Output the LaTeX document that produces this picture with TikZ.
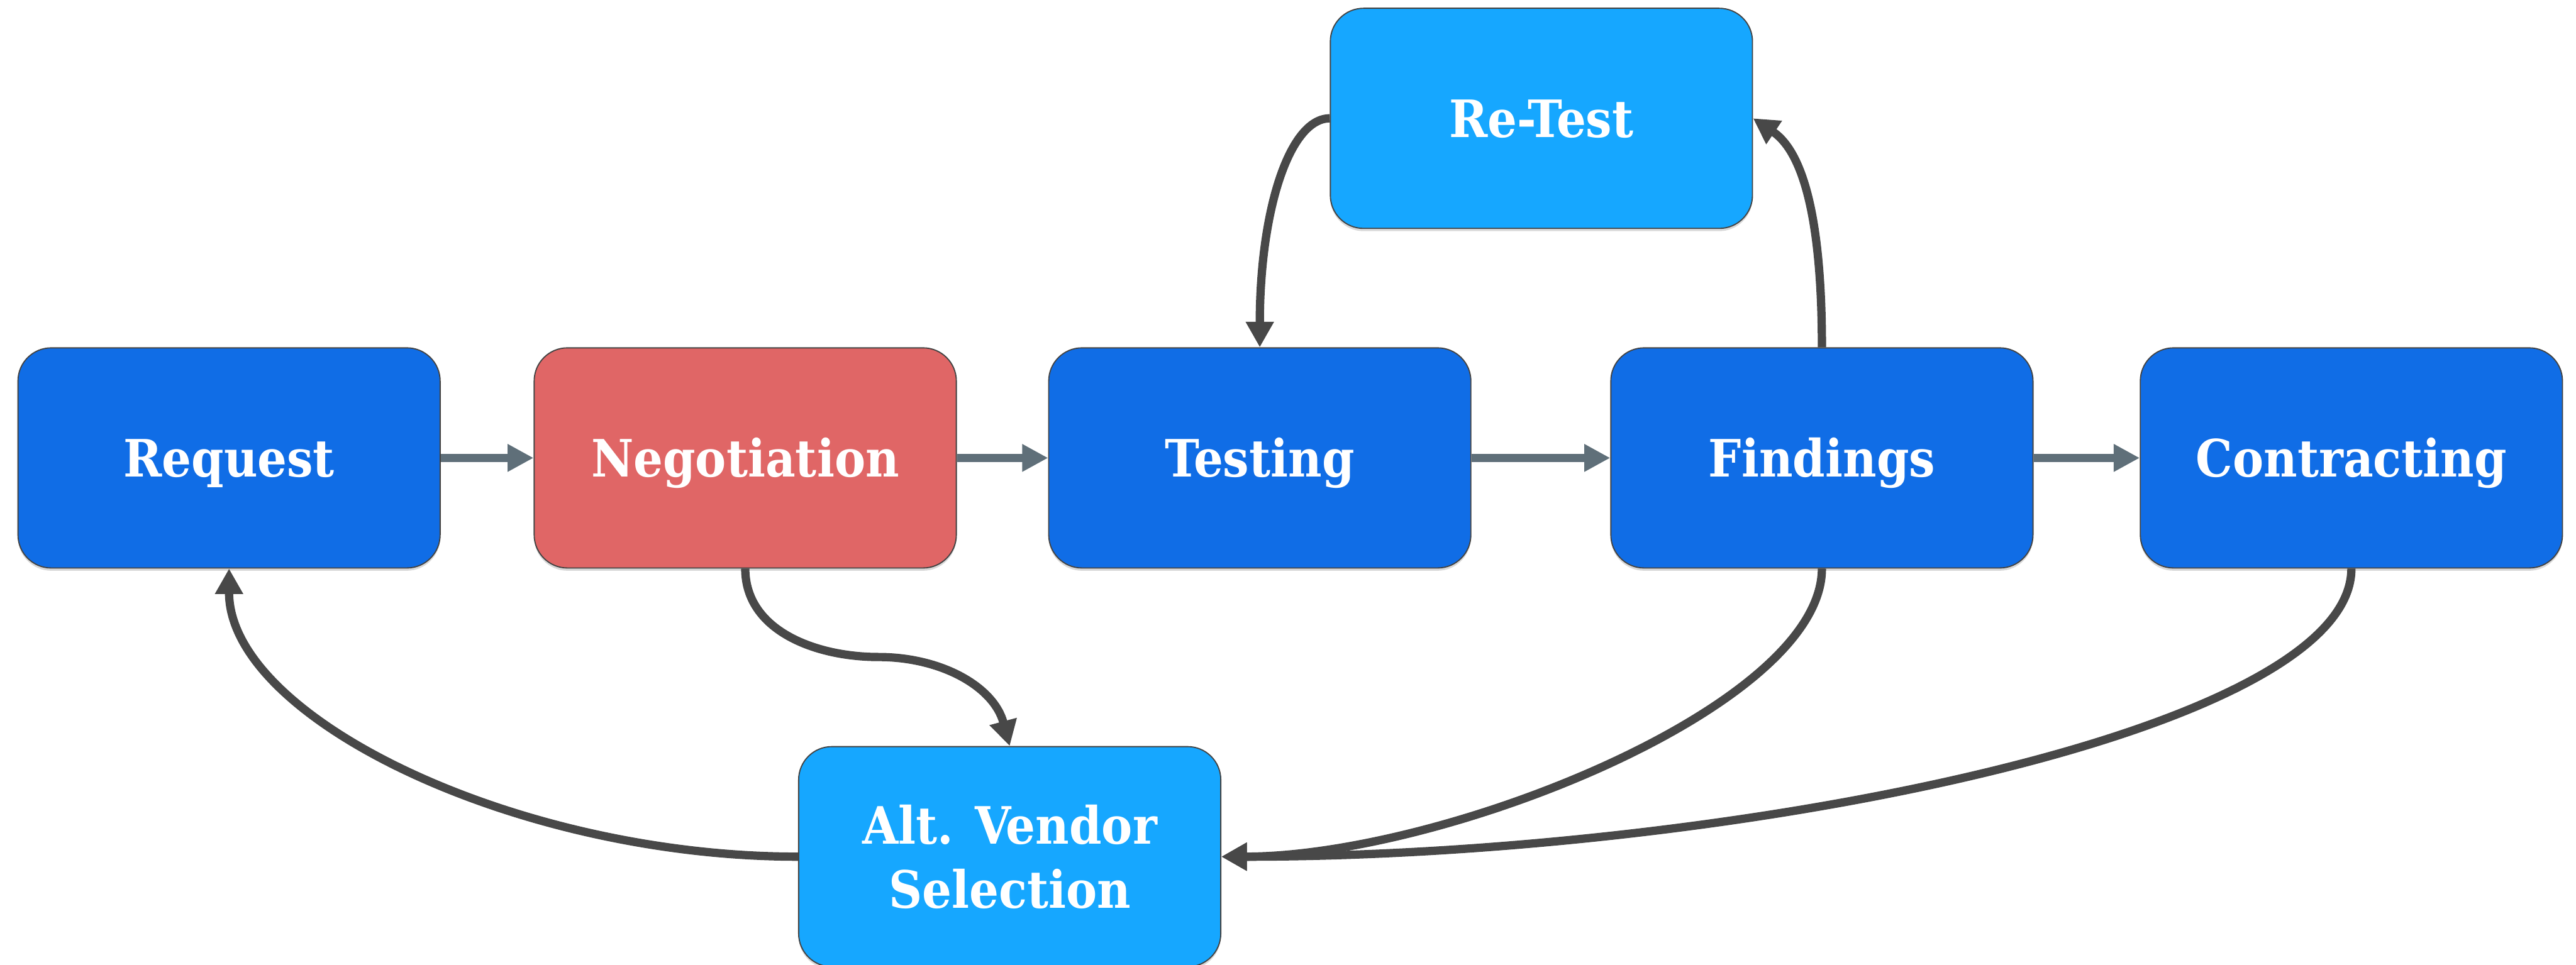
\documentclass[tikz,border=0pt]{standalone}
\usepackage{fontspec}
\newfontfamily\slabfont{DejaVu Serif Condensed}[BoldFont={DejaVu Serif Condensed Bold}]
\usetikzlibrary{arrows.meta,shadows}

\definecolor{stepblue}{HTML}{106DE6}
\definecolor{skyblue}{HTML}{16A7FF}
\definecolor{negred}{HTML}{E06666}
\definecolor{flowgray}{HTML}{5F6F79}
\definecolor{loopgray}{HTML}{484848}
\definecolor{edgegray}{HTML}{434343}

\begin{document}
\begin{tikzpicture}[
        box/.style = {rectangle,
            rounded corners=0.6cm,
            draw=edgegray, line width=0.6pt,
            minimum width=7.63cm, minimum height=3.98cm,
            text=white, align=center,
            font=\slabfont\bfseries\fontsize{26.5pt}{33pt}\selectfont,
            drop shadow={shadow xshift=0cm, shadow yshift=-0.05cm, opacity=0.3}
        },
        oneline/.style = {text height=0.68cm, text depth=0cm},
        forward/.style = {draw=flowgray, line width=0.15cm,
            -{Triangle[length=0.47cm, width=0.47cm]}
        },
        feedback/.style = {draw=loopgray, line width=0.15cm,
            -{Triangle[length=0.46cm, width=0.48cm]}
        }]

    \useasboundingbox (0,0) rectangle (46.56,17.44);

    % Main row
    \node [box, oneline, fill=stepblue] (request) at (4.14,9.16) {Request};
    \node [box, oneline, fill=negred] (negotiation) at (13.47,9.16) {Negotiation};
    \node [box, oneline, fill=stepblue] (testing) at (22.77,9.16) {Testing};
    \node [box, oneline, fill=stepblue] (findings) at (32.93,9.16) {Findings};
    \node [box, oneline, fill=stepblue] (contracting) at (42.50,9.16) {Contracting};

    % Side steps
    \node [box, oneline, fill=skyblue] (retest) at (27.86,15.30) {Re-Test};
    \node [box, fill=skyblue] (altvendor) at (18.25,1.95) {Alt. Vendor\\Selection};

    % Straight flow
    \draw [forward] (request) -- (negotiation);
    \draw [forward] (negotiation) -- (testing);
    \draw [forward] (testing) -- (findings);
    \draw [forward] (findings) -- (contracting);

    % Re-test loop
    \draw [feedback] (findings.north) .. controls +(0,2.27) and +(0.92,-0.62) .. (retest.east);
    \draw [feedback] (retest.west) .. controls +(-0.73,0) and +(0,2.47) .. (testing.north);

    % Alternative vendor loop
    \coordinate (dip) at (15.88,5.56);
    \draw [feedback] (negotiation.south) to[out=-90, in=180] (dip)
        to[out=0, in=105] (altvendor.north);
    \draw [feedback] (findings.south) .. controls +(0,-2.5) and +(4.0,0) .. (altvendor.east);
    \draw [feedback] (contracting.south) .. controls +(0,-3.0) and +(9.0,0) .. (altvendor.east);
    \draw [feedback] (altvendor.west) .. controls +(-5.1,0) and +(0,-2.7) .. (request.south);

\end{tikzpicture}
\end{document}
